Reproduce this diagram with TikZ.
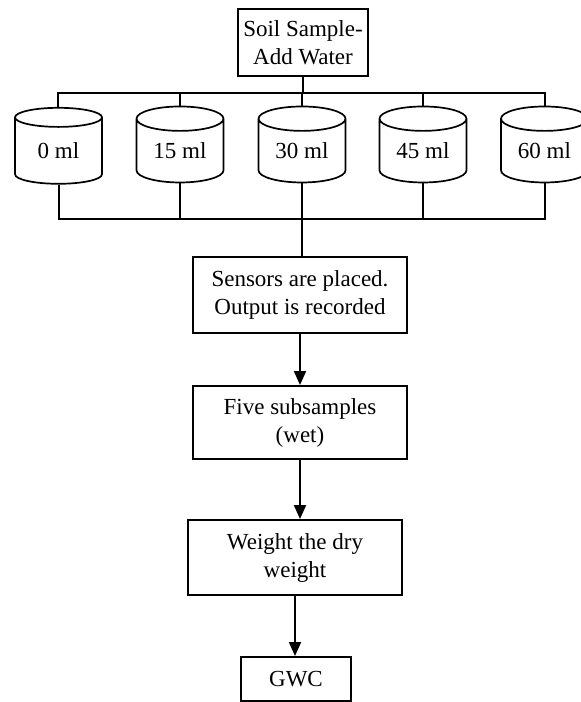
\documentclass[tikz,border=0pt]{standalone}
\usepackage{fontspec}
\setmainfont{Liberation Serif}
\usetikzlibrary{shapes.geometric,arrows.meta}
\tikzset{
	stepbox/.style={draw, line width=2pt, align=center, inner sep=0pt},
	cup/.style={draw, line width=1.7pt, cylinder, shape border rotate=90, aspect=0.46, minimum width=87pt, minimum height=76pt, inner sep=0pt},
	link/.style={line width=2pt},
	flow/.style={line width=2pt, -{Triangle[length=14pt,width=12pt]}}
}
\begin{document}
\begin{tikzpicture}[x=1pt, y=-1pt, font=\fontsize{23}{28}\selectfont]
	
	\useasboundingbox (0,0) rectangle (581,702);
	
	\coordinate (S) at (303,42.5);
	\coordinate (BT) at (302,93);
	\coordinate (BB) at (302,219);
	
	\node[stepbox, minimum width=130pt, minimum height=67pt] (soil) at (S) {Soil Sample-\\Add Water};
	
	\node[cup] (c0) at (58.5,151) {0 ml};
	\node[cup] (c15) at (180,151) {15 ml};
	\node[cup] (c30) at (302,151) {30 ml};
	\node[cup] (c45) at (423,151) {45 ml};
	\node[cup] (c60) at (544.5,151) {60 ml};
	
	\node[stepbox, minimum width=214pt, minimum height=76pt] (sens) at (300,295) {Sensors are placed.\\Output is recorded};
	\node[stepbox, minimum width=214pt, minimum height=73pt] (five) at (300,422.5) {Five subsamples\\(wet)};
	\node[stepbox, minimum width=214pt, minimum height=75pt] (dry) at (295,557.5) {Weight the dry\\weight};
	\node[stepbox, minimum width=110pt, minimum height=44pt] (gwc) at (296,679) {GWC};
	
	% top bus
	\draw[link] (soil.south) -- (soil.south |- BT);
	\draw[link] (c0.north) |- (BT) -| (c60.north);
	\foreach \c in {c15,c30,c45}
		\draw[link] (\c.north) -- (\c.north |- BT);
	
	% bottom bus
	\draw[link] (c0.south) |- (BB) -| (c60.south);
	\foreach \c in {c15,c30,c45}
		\draw[link] (\c.south) -- (\c.south |- BB);
	\draw[link] (c30.south |- BB) -- (c30.south |- sens.north);
	
	\draw[flow] (sens.south) -- (five.north);
	\draw[flow] (five.south) -- (five.south |- dry.north);
	\draw[flow] (dry.south) -- (dry.south |- gwc.north);
	
\end{tikzpicture}
\end{document}
